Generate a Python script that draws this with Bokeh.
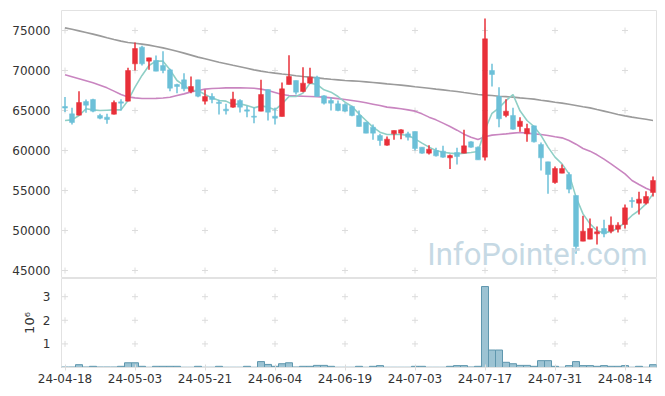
from bokeh.plotting import figure
from bokeh.layouts import column
from bokeh.models import ColumnDataSource, FixedTicker, Range1d, Label
from bokeh.embed import file_html
from bokeh.resources import INLINE

dates = ["24-04-18", "24-04-19", "24-04-22", "24-04-23", "24-04-24", "24-04-25", "24-04-26", "24-04-29", "24-04-30",
         "24-05-02", "24-05-03", "24-05-07", "24-05-08", "24-05-09", "24-05-10", "24-05-13", "24-05-14", "24-05-16",
         "24-05-17", "24-05-20", "24-05-21", "24-05-22", "24-05-23", "24-05-24", "24-05-27", "24-05-28", "24-05-29",
         "24-05-30", "24-05-31",
         "24-06-03", "24-06-04", "24-06-05", "24-06-07", "24-06-10", "24-06-11", "24-06-12", "24-06-13", "24-06-14",
         "24-06-17", "24-06-18", "24-06-19", "24-06-20", "24-06-21", "24-06-24", "24-06-25", "24-06-26", "24-06-27",
         "24-06-28",
         "24-07-01", "24-07-02", "24-07-03", "24-07-04", "24-07-05", "24-07-08", "24-07-09", "24-07-10", "24-07-11",
         "24-07-12", "24-07-15", "24-07-16", "24-07-17", "24-07-18", "24-07-19", "24-07-22", "24-07-23", "24-07-24",
         "24-07-25", "24-07-26", "24-07-29", "24-07-30", "24-07-31",
         "24-08-01", "24-08-02", "24-08-05", "24-08-06", "24-08-07", "24-08-08", "24-08-09", "24-08-12", "24-08-13",
         "24-08-14", "24-08-16", "24-08-19", "24-08-20", "24-08-21"]

opens = [65500, 64580, 64420, 66120, 66370, 64380, 64170, 64540, 66080, 66170,
         70830, 72920, 71170, 71250, 70620, 70080, 68250, 68830, 67370, 68830,
         66170, 66750, 66040, 65170, 65420, 66250, 65080, 64290, 64920, 67620,
         64290, 64250, 68250, 68750, 67370, 68420, 69170, 66830, 66250, 65830,
         65750, 65500, 64370, 63540, 62920, 61870, 60670, 62080, 62170, 62080,
         62370, 60420, 59670, 60000, 59920, 59080, 59750, 59670, 61080, 60420,
         59170, 70000, 66750, 64380, 64380, 63000, 62080, 63080, 60750, 58580,
         56000, 57170, 57000, 54380, 48670, 48920, 49580, 50250, 49920, 50170,
         50750, 53750, 53420, 53420, 54750]
highs = [66700, 65330, 67420, 66370, 66460, 64580, 64580, 66250, 66420, 70330,
         73500, 73080, 71580, 71870, 72420, 70210, 68330, 69670, 69250, 68830,
         67580, 67170, 66330, 65830, 67330, 66420, 65580, 65420, 68830, 67620,
         65330, 68500, 71920, 68750, 70420, 70330, 69330, 66920, 66670, 66250,
         65920, 65580, 65000, 63540, 63250, 62080, 61750, 62500, 62670, 62330,
         62370, 60420, 60670, 60330, 60580, 59500, 60330, 62580, 61170, 60500,
         76500, 70830, 67920, 66420, 65330, 64170, 63330, 63080, 61000, 58580,
         58000, 58250, 57290, 54380, 51830, 51500, 50500, 51330, 51750, 51040,
         53250, 54170, 54830, 54920, 56750]
lows = [64800, 63250, 64400, 64710, 64790, 63920, 63330, 64500, 65000, 66170,
        70000, 70630, 70080, 69920, 69670, 67420, 67170, 67420, 67170, 66670,
        65750, 65920, 64500, 64500, 65330, 64750, 64170, 63420, 64920, 63750,
        63250, 64250, 68250, 67000, 67290, 68330, 66750, 65750, 65000, 64920,
        64830, 64290, 63000, 62170, 61330, 60580, 60580, 61330, 61420, 61250,
        60000, 59580, 59500, 59250, 59080, 57700, 58250, 59670, 60330, 58830,
        58750, 68000, 62920, 64170, 62580, 62330, 61080, 61000, 57500, 54580,
        55830, 57170, 54670, 47080, 48670, 48920, 48250, 49170, 49670, 49750,
        50250, 52830, 52000, 53250, 54250]
closes = [65300, 63500, 66000, 65660, 64920, 64040, 63870, 66000, 65920, 70000,
          72750, 70830, 71580, 69920, 70000, 67790, 68000, 67710, 68000, 66790,
          66750, 66380, 65880, 64960, 66420, 65420, 64920, 64170, 67000, 64790,
          64040, 67710, 69250, 67290, 68420, 69170, 66750, 65920, 65920, 65000,
          64920, 64370, 63000, 62170, 62170, 61250, 61420, 62500, 62580, 61670,
          60250, 59670, 60170, 59330, 59170, 59370, 59250, 60580, 60420, 58830,
          73960, 69500, 63960, 64920, 62670, 63670, 62750, 61080, 59080, 57000,
          57750, 57750, 55170, 48000, 49920, 50250, 49830, 49580, 50670, 50670,
          52830, 53620, 53920, 54250, 56250]

ma5 = [63750, 63830, 64380, 65210, 65080, 65000, 65040, 65080, 65080, 66250,
       67920, 69380, 70630, 71170, 71170, 70080, 68750, 68130, 67500, 67500,
       67000, 66580, 66250, 66170, 65750, 65830, 65630, 65330, 65580, 65420,
       65080, 65830, 66750, 66750, 67170, 68420, 68250, 67580, 67290, 66750,
       66040, 65500, 64580, 63750, 62920, 62290, 62000, 62000, 62000, 61880,
       61460, 60920, 60420, 60000, 59790, 59670, 59580, 59670, 59750, 59880,
       62600, 64650, 65330, 66230, 67000, 64960, 63750, 63000, 61880, 60420,
       59170, 58330, 57080, 54170, 52080, 50830, 50000, 49670, 49920, 50250,
       51040, 51880, 52500, 53330, 54580]
ma20 = [69460, 69210, 68960, 68710, 68460, 68170, 67830, 67420, 67000, 66700,
        66580, 66500, 66500, 66520, 66560, 66650, 66880, 67080, 67330, 67500,
        67670, 67750, 67790, 67830, 67830, 67830, 67810, 67790, 67670, 67500,
        67250, 67000, 66880, 66830, 66790, 66750, 66710, 66670, 66580, 66480,
        66380, 66250, 66120, 65960, 65790, 65620, 65420, 65330, 65210, 65080,
        64920, 64580, 64170, 63830, 63420, 63000, 62540, 62040, 61670, 61380,
        61710, 61920, 62000, 62080, 62170, 62250, 62170, 62080, 62000, 61880,
        61710, 61580, 61250, 60790, 60250, 59920, 59460, 58920, 58330, 57710,
        57080, 56250, 55750, 55290, 54920]
ma60 = [75330, 75150, 74950, 74750, 74550, 74330, 74100, 73880, 73670, 73500,
        73400, 73300, 73170, 73000, 72830, 72620, 72400, 72170, 71920, 71670,
        71460, 71250, 71040, 70850, 70650, 70460, 70270, 70080, 69920, 69790,
        69670, 69560, 69460, 69350, 69250, 69170, 69080, 68980, 68900, 68830,
        68750, 68700, 68650, 68580, 68500, 68420, 68330, 68250, 68170, 68080,
        67960, 67880, 67790, 67670, 67580, 67460, 67380, 67250, 67130, 67000,
        66920, 66870, 66790, 66730, 66670, 66580, 66500, 66420, 66290, 66170,
        66040, 65920, 65790, 65630, 65460, 65330, 65120, 64920, 64710, 64500,
        64330, 64170, 64040, 63900, 63750]

volumes = [20000, 20000, 120000, 20000, 50000, 20000, 20000, 20000, 50000, 200000,
           200000, 50000, 10000, 50000, 50000, 50000, 50000, 10000, 10000, 50000,
           10000, 10000, 50000, 10000, 10000, 10000, 50000, 10000, 250000, 130000,
           50000, 160000, 200000, 20000, 50000, 50000, 90000, 90000, 50000, 10000,
           10000, 10000, 50000, 10000, 50000, 80000, 10000, 10000, 10000, 10000,
           50000, 50000, 10000, 10000, 10000, 50000, 80000, 80000, 20000, 50000,
           3430000, 740000, 740000, 220000, 160000, 90000, 90000, 50000, 290000, 290000,
           50000, 10000, 80000, 250000, 80000, 80000, 50000, 80000, 50000, 50000,
           80000, 10000, 50000, 10000, 120000]

price_ticks = [45000, 50000, 55000, 60000, 65000, 70000, 75000]
volume_ticks = [1, 2, 3]
date_tick_step = 10

UP = "#e8303a"
DOWN = "#6cc0d8"
FONT = "DejaVu Sans"
LABEL_COLOR = "#333333"
FRAME = "#e2e2e2"
GRIDX = "#dcdcdc"

n = len(dates)
idx = list(range(n))
date_ticks = list(range(0, n, date_tick_step))

colors = [UP if c >= o else DOWN for o, c in zip(opens, closes)]
src = ColumnDataSource(dict(
    x=idx, open=opens, high=highs, low=lows, close=closes,
    top=[max(o, c) for o, c in zip(opens, closes)],
    bottom=[min(o, c) for o, c in zip(opens, closes)],
    color=colors, ma5=ma5, ma20=ma20, ma60=ma60,
    vol=[v / 1e6 for v in volumes],
))

xr = Range1d(-0.5, n - 0.5)

p = figure(width=660, height=278, x_range=xr, y_range=Range1d(44000, 77500),
           output_backend="svg", toolbar_location=None, x_axis_location=None,
           min_border_left=61, min_border_right=4, min_border_top=10, min_border_bottom=0)
p.grid.visible = False
p.outline_line_color = FRAME
p.yaxis.ticker = FixedTicker(ticks=price_ticks)
p.yaxis.axis_line_color = None
p.yaxis.major_tick_line_color = None
p.yaxis.minor_tick_line_color = None
p.yaxis.major_label_standoff = 5
p.yaxis.major_label_text_font = FONT
p.yaxis.major_label_text_font_size = "12px"
p.yaxis.major_label_text_color = LABEL_COLOR

# grid crosses at tick intersections
gx = [x for x in date_ticks for _ in price_ticks]
gy = [y for _ in date_ticks for y in price_ticks]
p.scatter(gx, gy, marker="cross", size=6, line_color=GRIDX, line_width=1)

wm = Label(x=n - 0.5, y=47000, x_offset=-9, text="InfoPointer.com", text_align="right",
           text_baseline="middle", text_font="Roboto", text_font_size="31px",
           text_color="#c6d9e4")
p.add_layout(wm)

p.line("x", "ma60", source=src, line_color="#9b9b9b", line_width=1.6)
p.line("x", "ma20", source=src, line_color="#c985c0", line_width=1.6)
p.line("x", "ma5", source=src, line_color="#8fcfc6", line_width=1.6)

p.segment(x0="x", y0="low", x1="x", y1="high", source=src, line_color="color", line_width=1.5)
p.vbar(x="x", width=0.7, top="top", bottom="bottom", source=src,
       fill_color="color", line_color="color", line_width=0.5)

v = figure(width=660, height=107, x_range=xr, y_range=Range1d(0, 3.77),
           output_backend="svg", toolbar_location=None,
           min_border_left=61, min_border_right=4, min_border_top=0, min_border_bottom=0)
v.grid.visible = False
v.outline_line_color = FRAME
vx = [x for x in date_ticks for _ in volume_ticks]
vy = [y for _ in date_ticks for y in volume_ticks]
v.scatter(vx, vy, marker="cross", size=6, line_color=GRIDX, line_width=1)
v.vbar(x="x", width=1.0, top="vol", bottom=0, source=src,
       fill_color="#9cc3d3", line_color="#5f97ae", line_width=1)

v.yaxis.ticker = FixedTicker(ticks=volume_ticks)
v.yaxis.axis_line_color = None
v.yaxis.major_tick_line_color = None
v.yaxis.minor_tick_line_color = None
v.yaxis.major_label_standoff = 5
v.yaxis.major_label_text_font = FONT
v.yaxis.major_label_text_font_size = "12px"
v.yaxis.major_label_text_color = LABEL_COLOR
v.yaxis.axis_label = "10\u2076"
v.yaxis.axis_label_text_font = FONT
v.yaxis.axis_label_text_font_size = "13px"
v.yaxis.axis_label_text_font_style = "normal"
v.yaxis.axis_label_text_color = LABEL_COLOR
v.yaxis.axis_label_standoff = 3

v.xaxis.ticker = FixedTicker(ticks=date_ticks)
v.xaxis.major_label_overrides = {i: dates[i] for i in date_ticks}
v.xaxis.axis_line_color = FRAME
v.xaxis.major_tick_line_color = GRIDX
v.xaxis.major_tick_in = 3
v.xaxis.major_tick_out = 3
v.xaxis.minor_tick_line_color = None
v.xaxis.major_label_standoff = 3
v.xaxis.major_label_text_font = FONT
v.xaxis.major_label_text_font_size = "12px"
v.xaxis.major_label_text_color = LABEL_COLOR

layout = column(p, v, spacing=0)
open("out.html", "w").write(file_html(layout, INLINE))
